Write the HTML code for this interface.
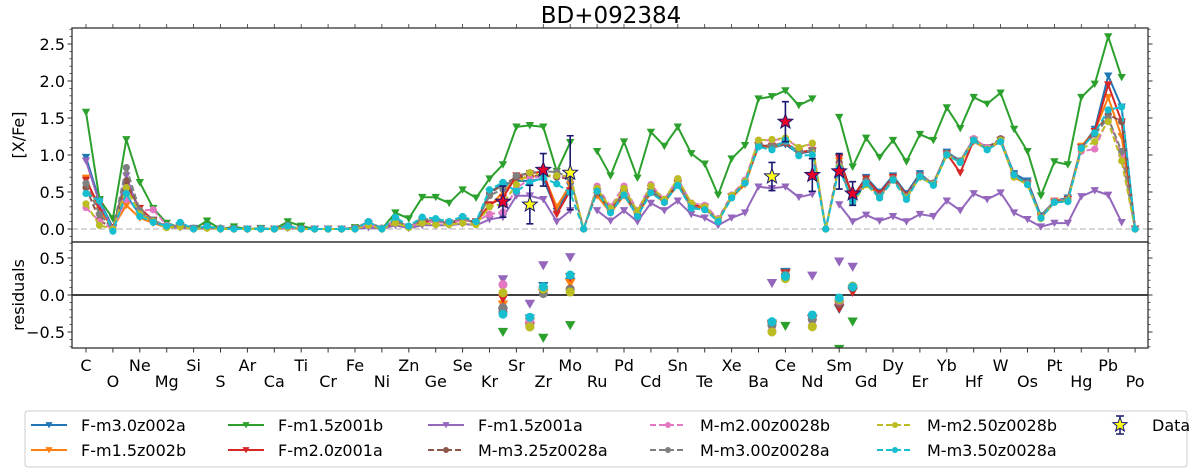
<!DOCTYPE html>
<html><head><meta charset="utf-8">
<style>
html,body{margin:0;padding:0;background:#fff;}
svg{display:block;font-family:"DejaVu Sans","Liberation Sans",sans-serif;}
</style></head>
<body>
<svg id="chart" width="1200" height="471" viewBox="0 0 1200 471" xmlns="http://www.w3.org/2000/svg">
<text x="611" y="23" font-size="23" text-anchor="middle">BD+092384</text>
<text transform="translate(24,135) rotate(-90)" font-size="16" text-anchor="middle">[X/Fe]</text>
<text transform="translate(24,295) rotate(-90)" font-size="16" text-anchor="middle">residuals</text>
<g id="layer"></g>
<rect x="25" y="411" width="1162" height="56" rx="3" fill="#fff" stroke="#ccc"/>
<g id="legend"></g>
</svg>
<script>
const elements=["C","N","O","F","Ne","Na","Mg","Al","Si","P","S","Cl","Ar","K","Ca","Sc","Ti","V","Cr","Mn","Fe","Co","Ni","Cu","Zn","Ga","Ge","As","Se","Br","Kr","Rb","Sr","Y","Zr","Nb","Mo","Tc","Ru","Rh","Pd","Ag","Cd","In","Sn","Sb","Te","I","Xe","Cs","Ba","La","Ce","Pr","Nd","Pm","Sm","Eu","Gd","Tb","Dy","Ho","Er","Tm","Yb","Lu","Hf","Ta","W","Re","Os","Ir","Pt","Au","Hg","Tl","Pb","Bi","Po"];
const seriesNames=["F-m3.0z002a","F-m1.5z002b","F-m1.5z001b","F-m2.0z001a","F-m1.5z001a","M-m3.25z0028a","M-m2.00z0028b","M-m3.00z0028a","M-m2.50z0028b","M-m3.50z0028a"];
const sBlue=[0.97,0.38,0.02,0.45,0.2,0.12,0.03,0.05,0.01,0.03, 0,0,0,0,0,0.02,0,0,0,0, 0,0.08,0,0.12,0.02,0.12,0.1,0.08,0.14,0.08, 0.5,0.6,0.65,0.65,0.68,0.24,0.58,null,0.5,0.25, 0.48,0.2,0.5,0.38,0.62,0.3,0.3,0.12,0.44,0.62, 1.12,1.1,1.14,1.02,1.05,null,0.97,0.43,0.7,0.5, 0.72,0.48,0.75,0.6,1.04,0.92,1.2,1.1,1.2,0.75, 0.65,0.18,0.38,0.42,1.1,1.35,2.07,1.65,0];
const sOrange=[0.69,0.25,0.02,0.32,0.15,0.08,0.02,0.03,0,0.02, 0,0,0,0,0,0.02,0,0,0,0, 0,0.06,0,0.1,0.02,0.1,0.1,0.08,0.12,0.1, 0.3,0.5,0.68,0.7,0.74,0.3,0.6,null,0.45,0.22, 0.45,0.18,0.5,0.36,0.6,0.3,0.28,0.12,0.42,0.6, 1.12,1.1,1.16,1.04,1.06,null,0.92,0.4,0.64,0.44, 0.68,0.44,0.7,0.6,1.0,0.9,1.18,1.08,1.18,0.7, 0.6,0.16,0.38,0.4,1.12,1.32,1.78,1.25,0];
const sGreen=[1.58,0.40,0.14,1.21,0.63,0.28,0.08,0.02,0.0,0.11, 0,0.03,0,0.01,0,0.10,0.04,0,0,0, 0.02,0.04,0,0.22,0.14,0.43,0.43,0.35,0.53,0.42, 0.68,0.87,1.38,1.40,1.38,0.78,1.17,null,1.05,0.72, 1.18,0.69,1.31,1.12,1.38,1.02,0.88,0.46,0.95,1.13, 1.76,1.79,1.87,1.67,1.76,null,1.51,0.84,1.23,0.97, 1.20,0.91,1.28,1.20,1.64,1.36,1.78,1.69,1.84,1.35, 1.05,0.45,0.91,0.87,1.78,1.96,2.60,2.05,null];
const sRed=[0.66,0.3,0.02,0.6,0.28,0.12,0.03,0.04,0,0.02, 0,0,0,0,0,0.02,0,0,0,0, 0,0.06,0,0.1,0.02,0.1,0.1,0.08,0.12,0.1, 0.33,0.42,0.72,0.75,0.78,0.2,0.52,null,0.5,0.27, 0.5,0.2,0.55,0.4,0.62,0.32,0.3,0.12,0.44,0.62, 1.13,1.12,1.16,1.04,1.06,null,0.96,0.44,0.68,0.48, 0.7,0.46,0.72,0.6,1.02,0.76,1.2,1.08,1.2,0.72, 0.62,0.16,0.36,0.4,1.1,1.32,1.95,1.45,0];
const sPurple=[0.92,0.35,0.0,0.72,0.2,0.1,0.02,0.02,0,0.01, 0,0,0,0,0,0.01,0,0,0,0, 0,0.02,0,0.05,0.01,0.05,0.05,0.05,0.07,0.05, 0.13,0.16,0.45,0.45,0.40,0.1,0.25,null,0.25,0.11, 0.25,0.1,0.35,0.25,0.38,0.2,0.15,0.05,0.15,0.22, 0.57,0.55,0.57,0.43,0.47,null,0.33,0.1,0.19,0.11, 0.17,0.1,0.2,0.17,0.38,0.25,0.48,0.4,0.49,0.22, 0.13,0.03,0.08,0.08,0.44,0.52,0.46,0.09,null];
const sBrown=[0.56,0.12,0.0,0.65,0.25,0.12,0.03,0.04,0.01,0.02, 0.01,0,0,0,0,0.03,0,0,0,0, 0.01,0.08,0.01,0.12,0.03,0.12,0.11,0.08,0.14,0.08, 0.48,0.6,0.7,0.72,0.72,0.7,0.68,0,0.5,0.24, 0.47,0.2,0.5,0.36,0.6,0.3,0.28,0.12,0.43,0.63, 1.13,1.1,1.18,1.02,1.06,0,0.9,0.38,0.66,0.45, 0.68,0.44,0.72,0.62,1.02,0.92,1.22,1.1,1.22,0.72, 0.62,0.15,0.37,0.4,1.1,1.3,1.55,1.45,0];
const sPink=[0.29,0.1,0.0,0.4,0.25,0.26,0.05,0.04,0.01,0.02, 0.01,0,0,0,0,0.02,0,0,0,0, 0.01,0.06,0.01,0.12,0.03,0.1,0.1,0.08,0.12,0.1, 0.2,0.23,0.55,0.68,0.72,0.72,0.7,0,0.58,0.3, 0.58,0.25,0.6,0.4,0.68,0.35,0.32,0.14,0.46,0.66, 1.2,1.2,1.22,1.1,1.15,0,0.86,0.36,0.64,0.44, 0.68,0.44,0.72,0.62,1.02,0.92,1.22,1.1,1.2,0.72, 0.62,0.15,0.38,0.4,1.05,1.08,1.5,1.0,0];
const sGray=[0.62,0.2,0.0,0.83,0.25,0.12,0.03,0.04,0.01,0.02, 0.01,0,0,0,0,0.05,0,0,0,0, 0.01,0.1,0.01,0.12,0.03,0.14,0.12,0.08,0.15,0.08, 0.45,0.54,0.72,0.76,0.78,0.77,0.69,0,0.55,0.26, 0.5,0.22,0.55,0.38,0.62,0.3,0.28,0.12,0.44,0.63, 1.15,1.12,1.18,1.04,1.06,0,0.85,0.36,0.64,0.44, 0.68,0.44,0.72,0.62,1.02,0.92,1.2,1.08,1.2,0.72, 0.62,0.15,0.37,0.4,1.1,1.28,1.5,1.05,0];
const sOlive=[0.34,0.05,0.0,0.56,0.2,0.1,0.02,0.03,0,0.01, 0,0,0,0,0,0.02,0,0,0,0, 0,0.05,0,0.08,0.02,0.08,0.06,0.06,0.08,0.06, 0.3,0.34,0.6,0.76,0.72,0.72,0.72,0,0.55,0.28, 0.55,0.24,0.58,0.4,0.68,0.35,0.3,0.12,0.45,0.64, 1.2,1.21,1.23,1.1,1.16,0,0.84,0.36,0.6,0.42, 0.66,0.42,0.7,0.6,1.0,0.9,1.2,1.08,1.2,0.7, 0.6,0.14,0.36,0.38,1.08,1.18,1.45,0.92,0];
const sCyan=[0.48,0.38,-0.03,0.48,0.17,0.09,0.04,0.09,0.0,0.04, 0,0,0,0,0,0.04,0,0,0,0, 0,0.1,0,0.16,0.04,0.16,0.14,0.1,0.17,0.1, 0.53,0.63,0.51,0.63,0.69,0.61,0.49,0,0.51,0.22, 0.46,0.17,0.49,0.36,0.59,0.28,0.26,0.1,0.42,0.62, 1.11,1.07,1.2,0.99,1.0,0,0.82,0.37,0.62,0.42, 0.66,0.40,0.71,0.59,1.0,0.9,1.2,1.07,1.18,0.73, 0.6,0.15,0.36,0.37,1.09,1.3,1.61,1.65,0];
const dataElements=["Rb","Y","Zr","Mo","La","Ce","Nd","Sm","Eu"];
const dataValues=[0.37,0.33,0.80,0.76,0.71,1.45,0.73,0.78,0.48];
const dataErrors=[0.21,0.26,0.22,0.50,0.19,0.27,0.22,0.24,0.16];
const dataLimit=[false,true,false,true,true,false,false,false,false];
const yTicksTop=[0.0,0.5,1.0,1.5,2.0,2.5];
const yTicksRes=[-0.5,0.0,0.5];

const NS="http://www.w3.org/2000/svg";
const colors=["#1f77b4","#ff7f0e","#2ca02c","#d62728","#9467bd","#8c564b","#e377c2","#7f7f7f","#bcbd22","#17becf"];
const allSeries=[sBlue,sOrange,sGreen,sRed,sPurple,sBrown,sPink,sGray,sOlive,sCyan];
const L=72,R=1148,T=28,MID=242,B=348;
const x0=86,dx=13.45;
function xs(i){return x0+i*dx;}
function ys(v){return 229-v*74;}
function yr(v){return 295-v*74;}
function mk(tag,attrs,parent){const e=document.createElementNS(NS,tag);for(const k in attrs)e.setAttribute(k,attrs[k]);(parent||layer).appendChild(e);return e;}
const layer=document.getElementById('layer');
const legend=document.getElementById('legend');

const defs=mk('defs',{});
const cp1=mk('clipPath',{id:'cTop'},defs);mk('rect',{x:L,y:T,width:R-L,height:MID-T},cp1);
const cp2=mk('clipPath',{id:'cRes'},defs);mk('rect',{x:L,y:MID,width:R-L,height:B-MID},cp2);

let z=mk('line',{x1:L,x2:R,y1:ys(0),y2:ys(0),stroke:'#c8c8c8','stroke-width':1.5,'stroke-dasharray':'6,3'});


z=mk('line',{x1:L,x2:R,y1:yr(0),y2:yr(0),stroke:'#000','stroke-width':1.5});



function marker(g,kind,x,y,col,size){
  let m;
  if(kind==='tri'){const s=size||4.2;m=mk('path',{d:`M${x-s},${y-s*0.8}L${x+s},${y-s*0.8}L${x},${y+s*0.95}Z`,fill:col},g);}
  else{m=mk('circle',{cx:x,cy:y,r:size||3.6,fill:col},g);}
  return m;
}
const gTop=mk('g',{'clip-path':'url(#cTop)'});


allSeries.forEach((arr,si)=>{
  const g=mk('g',{},gTop);
  
  
  const isM=si>=5;const kind=isM?'circ':'tri';
  let d='',pen=false;
  arr.forEach((v,i)=>{if(v===null){pen=false;return;}d+=(pen?'L':'M')+xs(i).toFixed(1)+','+ys(v).toFixed(1);pen=true;});
  const p=mk('path',{d:d,fill:'none',stroke:colors[si],'stroke-width':2,'stroke-dasharray':isM?'6,3':'none','stroke-linejoin':'round'},g);
  
  
  arr.forEach((v,i)=>{if(v===null)return;
    const m=marker(g,kind,xs(i),ys(v),colors[si]);
    
    
  });
});

function star(g,x,y,col,R1){
  const r2=R1*0.42;let d='';
  for(let k=0;k<10;k++){const a=-Math.PI/2+k*Math.PI/5;const r=k%2?r2:R1;d+=(k?'L':'M')+(x+r*Math.cos(a)).toFixed(1)+','+(y+r*Math.sin(a)).toFixed(1);}
  return mk('path',{d:d+'Z',fill:col,stroke:'#191970','stroke-width':1},g);
}
const gData=mk('g',{});


dataElements.forEach((el,k)=>{
  const i=elements.indexOf(el);const x=xs(i),v=dataValues[k],e=dataErrors[k];
  const eb=mk('path',{d:`M${x},${ys(v+e)}L${x},${ys(v-e)}M${x-3.5},${ys(v+e)}L${x+3.5},${ys(v+e)}M${x-3.5},${ys(v-e)}L${x+3.5},${ys(v-e)}`,stroke:'#191970','stroke-width':1.6,fill:'none'},gData);
  
  
  const s=star(gData,x,ys(v),dataLimit[k]?'#ffff1a':'#e8002a',7.8);
  
  
});

const gRes=mk('g',{'clip-path':'url(#cRes)'});


allSeries.forEach((arr,si)=>{
  dataElements.forEach((el,k)=>{
    const i=elements.indexOf(el);const mv=arr[i];if(mv===null)return;
    const r=dataValues[k]-mv;
    const m=marker(gRes,si>=5?'circ':'tri',xs(i),yr(r),colors[si],si>=5?4.5:5.2);
    
    
  });
});

let f=mk('rect',{x:L,y:T,width:R-L,height:MID-T,fill:'none',stroke:'#333','stroke-width':1.3});


f=mk('rect',{x:L,y:MID,width:R-L,height:B-MID,fill:'none',stroke:'#333','stroke-width':1.3});



function yTicks(arr,fn,lo,hi,name){
  for(let v=Math.ceil(lo*10);v<=Math.floor(hi*10);v++){const y=fn(v/10);
    mk('line',{x1:L-2.5,x2:L,y1:y,y2:y,stroke:'#333','stroke-width':0.8});
    mk('line',{x1:R,x2:R+2.5,y1:y,y2:y,stroke:'#333','stroke-width':0.8});}
  arr.forEach(v=>{const y=fn(v);
    mk('line',{x1:L-4.5,x2:L,y1:y,y2:y,stroke:'#333','stroke-width':1});
    mk('line',{x1:R,x2:R+4.5,y1:y,y2:y,stroke:'#333','stroke-width':1});
    const t=mk('text',{x:L-7,y:y+6,'font-size':16,'text-anchor':'end'});
    t.textContent=(v<0?'\u2212':'')+Math.abs(v).toFixed(1);
    
    
  });
}
yTicks(yTicksTop,ys,-0.17,2.71,'y-top');
yTicks(yTicksRes,yr,-0.71,0.71,'y-residual');

elements.forEach((el,i)=>{
  const x=xs(i);
  if(i%2===0){
    mk('line',{x1:x,x2:x,y1:B,y2:B+4.5,stroke:'#333','stroke-width':1});
    mk('line',{x1:x,x2:x,y1:T-4,y2:T,stroke:'#333','stroke-width':0.8});
    const upper=(i/2)%2===0;
    const t=mk('text',{x:x,y:upper?371:387,'font-size':16,'text-anchor':'middle'});
    t.textContent=el;
    
    
  }
});

const legX=[31,228,428,650,877],legY=[425,450];
seriesNames.forEach((n,si)=>{
  const col=Math.floor(si/2),row=si%2;const x=legX[col],y=legY[row];
  const g=mk('g',{},legend);
  
  
  const isM=si>=5;
  mk('line',{x1:x,x2:x+36,y1:y,y2:y,stroke:colors[si],'stroke-width':2,'stroke-dasharray':isM?'6,3':'none'},g);
  marker(g,isM?'circ':'tri',x+18,y,colors[si],isM?3:3.6);
  const t=mk('text',{x:x+50,y:y+6,'font-size':16},g);
  t.textContent=n;
});
const gd=mk('g',{},legend);


mk('path',{d:'M1120,416L1120,434M1116,416L1124,416M1116,434L1124,434',stroke:'#191970','stroke-width':1.5,fill:'none'},gd);
star(gd,1120,425,'#ffff1a',7.5);
const td=mk('text',{x:1152,y:431,'font-size':16},gd);
td.textContent='Data';
</script>
</body></html>
